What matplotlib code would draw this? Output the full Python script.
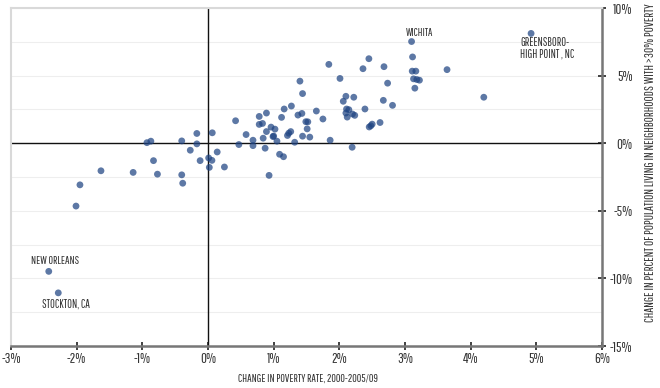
import numpy as np
import matplotlib
matplotlib.use("Agg")
import matplotlib.pyplot as plt
from matplotlib import font_manager as fm

# the original uses a condensed gothic; take the first one available
have = set(f.name for f in fm.fontManager.ttflist)
wanted = ['Pathway Gothic One', 'Barlow Condensed', 'Roboto Condensed',
          'Archivo Narrow', 'PT Sans Narrow', 'Liberation Sans Narrow']
family = [w for w in wanted if w in have][:1]
plt.rcParams['font.family'] = family + ['DejaVu Sans']

# change in poverty rate (%), change in share living in >30% poverty tracts (%)
pov_change = [-1.95, -2.01, -1.63, -1.14, -0.77, -0.83, -0.93, -0.87, -0.40, -0.40,
              -0.385, -0.27, -0.17, -0.17, -0.12, 0.01, 0.06, 0.02, 0.065, 0.14,
              0.25, 0.42, 0.47, 0.58, 0.685, 0.685, 0.78, 0.78, 0.83, 0.89,
              0.84, 0.87, 0.89, 0.93, 0.96, 0.99, 1.00, 1.02, 1.05, 1.09,
              1.15, 1.12, 1.16, 1.21, 1.23, 1.26, 1.27, 1.32, 1.37, 1.43,
              1.40, 1.44, 1.44, 1.49, 1.52, 1.51, 1.55, 1.65, 1.75, 1.84,
              1.86, 2.01, 2.10, 2.22, 2.06, 2.11, 2.145, 2.10, 2.20, 2.235,
              2.12, 2.39, 2.36, 2.45, 2.455, 2.48, 2.50, 2.62, 2.67, 2.68,
              2.735, 2.81, 2.195, 3.10, 3.115, 3.11, 3.165, 3.13, 3.18, 3.22,
              3.15, 3.64, 4.20, 4.92, -2.425, -2.28]
conc_change = [-3.08, -4.65, -2.04, -2.16, -2.29, -1.29, 0.04, 0.15, 0.17, -2.34,
               -2.96, -0.52, 0.72, -0.05, -1.29, -1.09, -1.27, -1.79, 0.77, -0.65,
               -1.76, 1.66, -0.10, 0.64, 0.22, -0.18, 1.98, 1.39, 1.46, 2.23,
               0.37, -0.37, 0.86, -2.38, 1.19, 0.49, 0.53, 1.04, 0.15, -0.82,
               -1.00, 1.91, 2.53, 0.57, 0.74, 0.86, 2.75, 0.07, 2.08, 2.20,
               4.59, 3.67, 0.52, 1.59, 1.58, 1.06, 0.45, 2.38, 1.79, 5.83,
               0.22, 4.79, 3.47, 3.40, 3.10, 2.53, 2.48, 2.23, 2.16, 2.06,
               1.93, 2.53, 5.51, 6.25, 1.20, 1.29, 1.41, 1.53, 3.17, 5.66,
               4.44, 2.80, -0.30, 7.52, 6.38, 5.33, 5.33, 4.76, 4.71, 4.66,
               4.07, 5.44, 3.40, 8.12, -9.48, -11.07]

# labelled metros: (name, index of point, pixel offset, alignment, width in px)
labels = [("WICHITA", 83, (-6, 9), 'left', 27),
          ("GREENSBORO-\nHIGH POINT , NC", 93, (-11, -15), 'left', 54),
          ("NEW ORLEANS", 94, (6, 10), 'center', 48),
          ("STOCKTON, CA", 95, (8, -11), 'center', 48)]

x_ticks = np.arange(-3, 7, 1)
y_ticks = np.arange(-15, 11, 5)

txt = '#333333'

fig = plt.figure(figsize=(6.6, 3.88), dpi=100)
renderer = fig.canvas.get_renderer()


def size_for(s, width_px):
    # font size that gives the string the width it has in the original
    probe = fig.text(0.5, 0.5, s, fontsize=10)
    w = probe.get_window_extent(renderer).width
    probe.remove()
    return 10 * width_px / w


ax = fig.add_axes([11/660, 1 - 346/388, (602 - 11)/660, (346 - 8)/388])

ax.set_yticks(np.arange(-15, 10.1, 2.5), minor=True)
ax.grid(axis='y', which='both', color='#eeeeee', linewidth=0.8)
ax.set_axisbelow(True)
ax.axhline(0, color='#111111', linewidth=1.0, zorder=1)
ax.axvline(0, color='#111111', linewidth=1.0, zorder=1)

ax.scatter(pov_change, conc_change, s=24, color='#1f4482', alpha=0.72,
           edgecolors='none', zorder=3)

for name, i, off, ha, w in labels:
    ax.annotate(name, (pov_change[i], conc_change[i]), xytext=off,
                textcoords='offset pixels', ha=ha, va='center',
                fontsize=size_for(name, w), color=txt, linespacing=1.1)

ax.set_xlim(-3, 6)
ax.set_ylim(-15, 10)
ax.set_xticks(x_ticks)
ax.set_xticklabels([f"{v}%" for v in x_ticks])
ax.set_yticks(y_ticks)
ax.set_yticklabels([f"{v}%" for v in y_ticks])

ax.yaxis.tick_right()
ax.tick_params(which='major', direction='inout', length=6, width=1.3,
               color='#333333', labelsize=size_for("10%", 19), labelcolor=txt)
ax.tick_params(axis='y', pad=19)
ax.tick_params(axis='x', pad=1.5)
for lab in ax.get_yticklabels():
    lab.set_horizontalalignment('right')
ax.tick_params(which='minor', length=0)

for side in ['left', 'top']:
    ax.spines[side].set_color('#d9d9d9')
    ax.spines[side].set_linewidth(1.5)
for side in ['bottom', 'right']:
    ax.spines[side].set_color('#777777')
    ax.spines[side].set_linewidth(1.8)

xlab = "CHANGE IN POVERTY RATE, 2000-2005/09"
ylab = "CHANGE IN PERCENT OF POPULATION LIVING IN NEIGHBORHOODS WITH >30% POVERTY"
fig.text(308/660, 1 - 379/388, xlab, ha='center', va='center',
         fontsize=size_for(xlab, 141), color=txt)
fig.text(650/660, 1 - 163/388, ylab, ha='center', va='center', rotation=90,
         fontsize=size_for(ylab, 317), color=txt)

fig.savefig("out.png", dpi=100)
